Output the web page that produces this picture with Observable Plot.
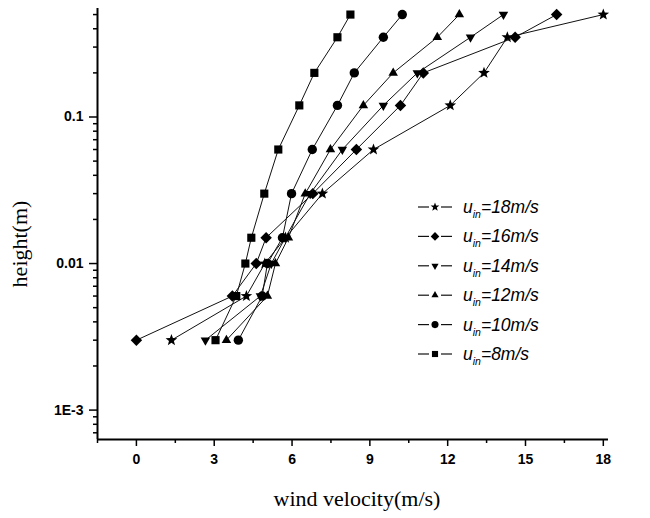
<!DOCTYPE html>
<html><head><meta charset="utf-8">
<script src="https://cdn.jsdelivr.net/npm/d3@7"></script>
<script src="https://cdn.jsdelivr.net/npm/@observablehq/plot@0.6"></script>
<style>body{margin:0;background:#fff} #chart svg{display:block}</style>
</head><body><div id="chart"></div>
<script>
// ---- data (height in m, wind velocity in m/s) ----
const heights = [0.003, 0.006, 0.01, 0.015, 0.03, 0.06, 0.12, 0.2, 0.35, 0.5];
const u18 = [1.35, 4.24, 4.95, 5.75, 7.17, 9.14, 12.1, 13.4, 14.3, 18.0];
const u16 = [0.0, 3.7, 4.62, 5.0, 6.8, 8.48, 10.18, 11.06, 14.6, 16.2];
const u14 = [2.66, 4.78, 5.2, 5.74, 6.7, 7.94, 9.52, 10.83, 12.88, 14.15];
const u12 = [3.47, 5.05, 5.36, 5.86, 6.51, 7.48, 8.75, 9.9, 11.6, 12.45];
const u10 = [3.93, 4.85, 5.05, 5.63, 5.98, 6.78, 7.75, 8.4, 9.52, 10.25];
const u8  = [3.05, 3.85, 4.2, 4.43, 4.93, 5.47, 6.28, 6.86, 7.75, 8.25];
const seriesLabels = ["18m/s", "16m/s", "14m/s", "12m/s", "10m/s", "8m/s"];
const xTicks = [0, 3, 6, 9, 12, 15, 18];
const xMinorTicks = [-1.5, 1.5, 4.5, 7.5, 10.5, 13.5, 16.5];
const yTicks = [0.001, 0.01, 0.1];
const yTickLabels = ["1E-3", "0.01", "0.1"];
const yMinorTicks = [7e-4, 8e-4, 9e-4, 0.002, 0.003, 0.004, 0.005, 0.006, 0.007, 0.008, 0.009,
  0.02, 0.03, 0.04, 0.05, 0.06, 0.07, 0.08, 0.09, 0.2, 0.3, 0.4, 0.5];
const xDomain = [-1.5, 18.2];
const yDomain = [6.3e-4, 0.55];

// ---- symbols ----
const symSquare = {draw(c, s){ const h = Math.sqrt(s)/2; c.moveTo(-h,-h); c.lineTo(h,-h); c.lineTo(h,h); c.lineTo(-h,h); c.closePath(); }};
const symDiamond = {draw(c, s){ const h = Math.sqrt(s)*0.72; c.moveTo(0,-h); c.lineTo(h,0); c.lineTo(0,h); c.lineTo(-h,0); c.closePath(); }};
const symUp = {draw(c, s){ const a = Math.sqrt(s)*1.25, h = a*0.866; c.moveTo(0,-2*h/3); c.lineTo(a/2,h/3); c.lineTo(-a/2,h/3); c.closePath(); }};
const symDown = {draw(c, s){ const a = Math.sqrt(s)*1.25, h = a*0.866; c.moveTo(0,2*h/3); c.lineTo(a/2,-h/3); c.lineTo(-a/2,-h/3); c.closePath(); }};
const symCircle = {draw(c, s){ const r = Math.sqrt(s/Math.PI); c.moveTo(r,0); c.arc(0,0,r,0,2*Math.PI); c.closePath(); }};
const symStar = {draw(c, s){ const R = Math.sqrt(s)*0.72, r = R*0.42;
  for (let i = 0; i < 10; i++) { const a = -Math.PI/2 + i*Math.PI/5, rr = i%2 ? r : R;
    if (i === 0) c.moveTo(rr*Math.cos(a), rr*Math.sin(a)); else c.lineTo(rr*Math.cos(a), rr*Math.sin(a)); }
  c.closePath(); }};

const seriesValues = [u18, u16, u14, u12, u10, u8];
const seriesSymbols = [symStar, symDiamond, symDown, symUp, symCircle, symSquare];
const seriesR = [4.8, 4.5, 4.3, 4.3, 4.7, 4.6];

const seriesMarks = [];
seriesValues.forEach((vals, i) => {
  const rows = vals.map((v, j) => ({u: v, h: heights[j]}));
  seriesMarks.push(Plot.line(rows, {x: "u", y: "h", stroke: "#111", strokeWidth: 1}));
  seriesMarks.push(Plot.dot(rows, {x: "u", y: "h", symbol: seriesSymbols[i], r: seriesR[i], fill: "#000", stroke: "none"}));
});

const chart = Plot.plot({
  width: 650, height: 518,
  marginLeft: 97, marginRight: 42, marginTop: 8, marginBottom: 79,
  style: {fontFamily: "Liberation Sans, Arial, sans-serif", background: "#fff", color: "#000"},
  x: {type: "linear", domain: xDomain},
  y: {type: "log", domain: yDomain},
  marks: [
    Plot.axisX({ticks: xTicks, tickSize: 7, tickPadding: 8, fontSize: 14, fontWeight: "bold", tickFormat: d => String(d), label: null, strokeWidth: 1.5}),
    Plot.axisX({ticks: xMinorTicks, tickSize: 4, tickFormat: () => "", label: null, strokeWidth: 1.5}),
    Plot.axisY({ticks: yTicks, tickSize: 8, tickPadding: 6, fontSize: 14, fontWeight: "bold", tickFormat: d => yTickLabels[yTicks.indexOf(d)], label: null, strokeWidth: 1.5}),
    Plot.axisY({ticks: yMinorTicks, tickSize: 4, tickFormat: () => "", label: null, strokeWidth: 1.5}),
    Plot.ruleX([xDomain[0]], {stroke: "#000", strokeWidth: 2}),
    Plot.ruleY([yDomain[0]], {stroke: "#000", strokeWidth: 2}),
    ...seriesMarks,
    Plot.text(["height(m)"], {frameAnchor: "left", rotate: -90, dx: -78, dy: 20, textAnchor: "middle", lineAnchor: "middle", fontSize: 22, fontFamily: "Liberation Serif, Times New Roman, serif", fill: "#000"}),
    Plot.text(["wind velocity(m/s)"], {frameAnchor: "bottom", dx: 4, dy: 59, textAnchor: "middle", lineAnchor: "middle", fontSize: 22, fontFamily: "Liberation Serif, Times New Roman, serif", fill: "#000"})
  ]
});
document.getElementById("chart").appendChild(chart);

// ---- legend ----
const svg = d3.select(chart);
const lg = svg.append("g").attr("class", "legend").attr("text-anchor", "start");
const legendTop = 207, legendStep = 29.4;
seriesLabels.forEach((lab, i) => {
  const y = legendTop + i*legendStep;
  const g = lg.append("g").attr("transform", `translate(0,${y})`);
  g.append("line").attr("x1", 418).attr("x2", 429).attr("y1", 0).attr("y2", 0).attr("stroke", "#111").attr("stroke-width", 1.2);
  g.append("line").attr("x1", 441).attr("x2", 452).attr("y1", 0).attr("y2", 0).attr("stroke", "#111").attr("stroke-width", 1.2);
  const p = d3.path(); seriesSymbols[i].draw(p, Math.PI*Math.pow(seriesR[i]*0.75, 2));
  g.append("path").attr("d", p.toString()).attr("transform", "translate(435,0)").attr("fill", "#000");
  const t = g.append("text").attr("x", 463).attr("y", 6).attr("text-anchor", "start").attr("font-family", "Liberation Sans, Arial, sans-serif").attr("font-style", "italic").attr("font-size", 17.5).attr("fill", "#000");
  t.append("tspan").text("u");
  t.append("tspan").attr("dy", 5).attr("font-size", 10.5).text("in");
  t.append("tspan").attr("dy", -5).text("=" + lab);
});
</script>
</body></html>
